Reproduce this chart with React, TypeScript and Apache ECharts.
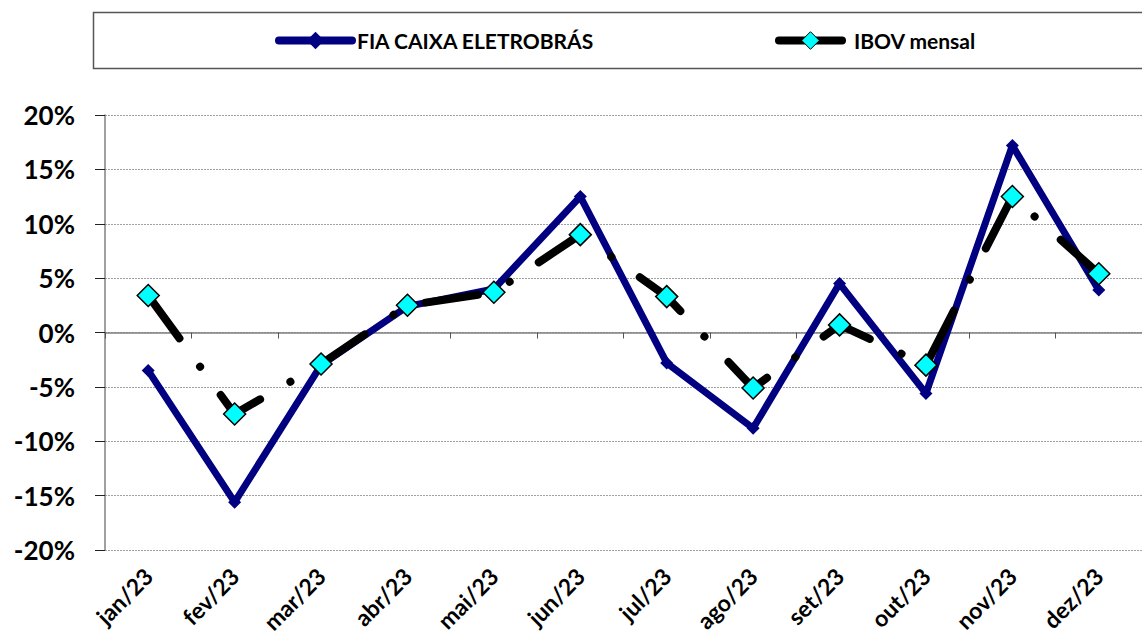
import React, { useEffect, useRef } from "react";
import * as echarts from "echarts";

const categories = ["jan/23", "fev/23", "mar/23", "abr/23", "mai/23", "jun/23", "jul/23", "ago/23", "set/23", "out/23", "nov/23", "dez/23"];
const fiaValues = [-3.5, -15.6, -3.0, 2.4, 4.0, 12.5, -2.8, -8.8, 4.5, -5.6, 17.2, 3.9];
const ibovValues = [3.4, -7.5, -2.9, 2.5, 3.7, 9.0, 3.3, -5.1, 0.7, -3.0, 12.5, 5.4];
const fiaName = "FIA CAIXA ELETROBRÁS";
const ibovName = "IBOV mensal";

const FONT = "Lato, 'Open Sans', sans-serif";

export default function App() {
  const ref = useRef<HTMLDivElement>(null);
  useEffect(() => {
    if (!ref.current) return;
    const chart = echarts.init(ref.current, undefined, { renderer: "svg" });
    chart.setOption({
      animation: false,
      backgroundColor: "#ffffff",
      graphic: [
        {
          type: "rect",
          shape: { x: 93.5, y: 12.5, width: 1060, height: 56 },
          style: { fill: "none", stroke: "#555555", lineWidth: 1.5 },
          z: -1,
        },
      ],
      legend: [
        {
          data: [fiaName],
          left: 275,
          top: 30,
          padding: 0,
          itemWidth: 73,
          itemHeight: 22,
          lineStyle: { width: 8, cap: "round" },
          textStyle: { fontFamily: FONT, fontWeight: "bold", fontSize: 21, color: "#000" },
        },
        {
          data: [ibovName],
          left: 775,
          top: 30,
          padding: 0,
          itemWidth: 63,
          itemHeight: 22,
          lineStyle: { width: 8, type: "solid", cap: "round" },
          itemStyle: { color: "#00ffff", borderColor: "#000", borderWidth: 1 },
          textStyle: { fontFamily: FONT, fontWeight: "bold", fontSize: 21, color: "#000", padding: [0, 0, 0, 7] },
        },
      ],
      grid: { left: 105, right: 0, top: 115, bottom: 88, containLabel: false, outerBoundsMode: "none" },
      xAxis: [
        {
          type: "category",
          data: categories,
          boundaryGap: true,
          position: "bottom",
          axisLine: { show: false, onZero: false },
          axisTick: { show: false },
          axisLabel: {
            rotate: 45,
            margin: 22,
            fontFamily: FONT,
            fontWeight: "bold",
            fontSize: 23,
            color: "#000",
            interval: 0,
            hideOverlap: false,
          },
        },
        {
          type: "category",
          data: categories,
          boundaryGap: true,
          position: "bottom",
          axisLine: { show: true, onZero: true, lineStyle: { color: "#808080", width: 1.5 } },
          axisTick: { show: true, length: 6, lineStyle: { color: "#555" } },
          axisLabel: { show: false },
        },
      ],
      yAxis: {
        type: "value",
        min: -20,
        max: 20,
        interval: 5,
        axisLine: { show: true, lineStyle: { color: "#808080", width: 1.5 } },
        axisTick: { show: true, length: 10, lineStyle: { color: "#222" } },
        splitLine: { show: true, lineStyle: { color: "#a0a0a0", type: [2, 1], width: 1 } },
        axisLabel: {
          formatter: (v: number) => `${v}%`,
          margin: 30,
          fontFamily: FONT,
          fontWeight: "bold",
          fontSize: 26,
          color: "#000",
        },
      },
      series: [
        {
          name: fiaName,
          type: "line",
          data: fiaValues,
          xAxisIndex: 1,
          symbol: "diamond",
          symbolSize: 13,
          lineStyle: { color: "#000080", width: 7 },
          itemStyle: { color: "#000080" },
          z: 2,
        },
        {
          name: ibovName,
          type: "line",
          data: ibovValues,
          xAxisIndex: 1,
          symbol: "diamond",
          symbolSize: 22,
          lineStyle: { color: "#000000", width: 8, type: [53, 35, 0.1, 35], cap: "round" },
          itemStyle: { color: "#00ffff", borderColor: "#000000", borderWidth: 1.5 },
          z: 3,
        },
      ],
    });
    return () => chart.dispose();
  }, []);
  return <div ref={ref} style={{ width: 1142, height: 638, position: "absolute", left: 0, top: 0 }} />;
}
